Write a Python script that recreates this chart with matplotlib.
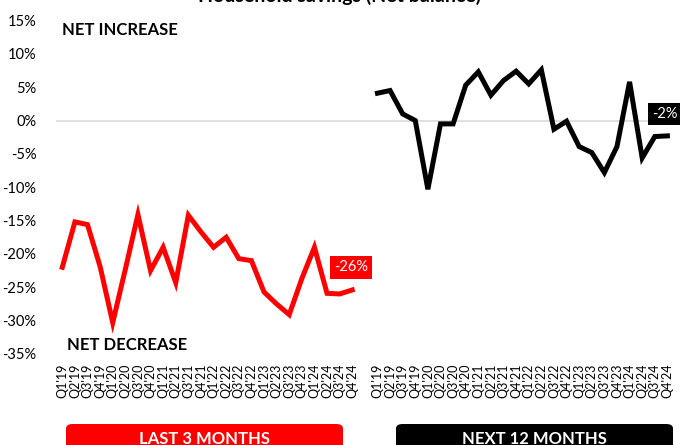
import numpy as np
import matplotlib
matplotlib.use("Agg")
import matplotlib.pyplot as plt
from matplotlib.patches import FancyBboxPatch

plt.rcParams['font.family'] = ['Lato', 'DejaVu Sans']

# Datos
trimestres = ["Q1'19", "Q2'19", "Q3'19", "Q4'19", "Q1'20", "Q2'20", "Q3'20", "Q4'20",
              "Q1'21", "Q2'21", "Q3'21", "Q4'21", "Q1'22", "Q2'22", "Q3'22", "Q4'22",
              "Q1'23", "Q2'23", "Q3'23", "Q4'23", "Q1'24", "Q2'24", "Q3'24", "Q4'24"]
ultimos_3_meses = [-22.0, -15.2, -15.6, -21.9, -30.3, -22.3, -14.1, -22.5,
                   -19.0, -24.3, -14.2, -16.7, -19.0, -17.5, -20.7, -21.0,
                   -25.7, -27.5, -29.1, -23.7, -19.0, -25.9, -26.0, -25.4]
proximos_12_meses = [4.1, 4.5, 1.0, 0.0, -10.3, -0.5, -0.5, 5.3,
                     7.3, 3.8, 6.0, 7.4, 5.5, 7.6, -1.3, -0.1,
                     -3.9, -4.8, -7.8, -3.9, 5.8, -5.6, -2.4, -2.3]
etiqueta_ultimos = "-26%"
etiqueta_proximos = "-2%"
y_ticks = [15, 10, 5, 0, -5, -10, -15, -20, -25, -30, -35]

W, H = 680, 445
def fx(x):
    return x / W
def fy(y):
    return 1 - y / H

fig = plt.figure(figsize=(6.8, 4.45), dpi=100)
ax = fig.add_axes([fx(56), fy(354), fx(680) - fx(56), fy(20.5) - fy(354)])

n = len(trimestres)
x_izq = np.arange(n)
x_der = np.arange(n) + n + 1

ax.plot(x_izq, ultimos_3_meses, color='#ff0000', lw=3.6, solid_joinstyle='miter')
ax.plot(x_der, proximos_12_meses, color='black', lw=3.6, solid_joinstyle='miter')
ax.axhline(0, color='#d9d9d9', lw=1.2, zorder=0)

ax.set_xlim(-0.5, 2 * n + 1)
ax.set_ylim(-35, 15)
ax.set_yticks(y_ticks)
ax.set_yticklabels([f"{v}%" for v in y_ticks], fontsize=10.5)
ax.set_xticks(np.concatenate([x_izq, x_der]))
ax.set_xticklabels(trimestres + trimestres, rotation=90, fontsize=9)
ax.tick_params(length=0)
ax.tick_params(axis='y', pad=14)
ax.tick_params(axis='x', pad=7)
for s in ax.spines.values():
    s.set_visible(False)

# Etiquetas finales
ax.text(x_izq[-1] - 0.1, -22.0, etiqueta_ultimos, color='white', fontsize=10.5,
        ha='center', va='center',
        bbox=dict(boxstyle='square,pad=0.3', fc='#ff0000', ec='none'))
ax.text(x_der[-1] - 0.2, 1.0, etiqueta_proximos, color='white', fontsize=10.5,
        ha='center', va='center',
        bbox=dict(boxstyle='square,pad=0.3', fc='black', ec='none'))

# Textos
fig.text(fx(340), fy(-4), "Household savings (Net balance)", fontsize=14,
         fontweight='bold', ha='center', va='center')
fig.text(fx(62), fy(30), "NET INCREASE", fontsize=12, fontweight='bold',
         ha='left', va='center')
fig.text(fx(67), fy(345), "NET DECREASE", fontsize=12, fontweight='bold',
         ha='left', va='center')

# Cajas inferiores
for x0, x1, color, texto in [(66, 343, '#ff0000', "LAST 3 MONTHS"),
                             (396, 673, 'black', "NEXT 12 MONTHS")]:
    caja = FancyBboxPatch((fx(x0), fy(460)), fx(x1) - fx(x0), fy(424) - fy(460),
                          boxstyle='round,pad=0,rounding_size=0.01',
                          transform=fig.transFigure, fc=color, ec='none')
    fig.patches.append(caja)
    fig.text(fx((x0 + x1) / 2), fy(439), texto, color='white', fontsize=12,
             fontweight='bold', ha='center', va='center')

fig.savefig('out.png', dpi=100)
